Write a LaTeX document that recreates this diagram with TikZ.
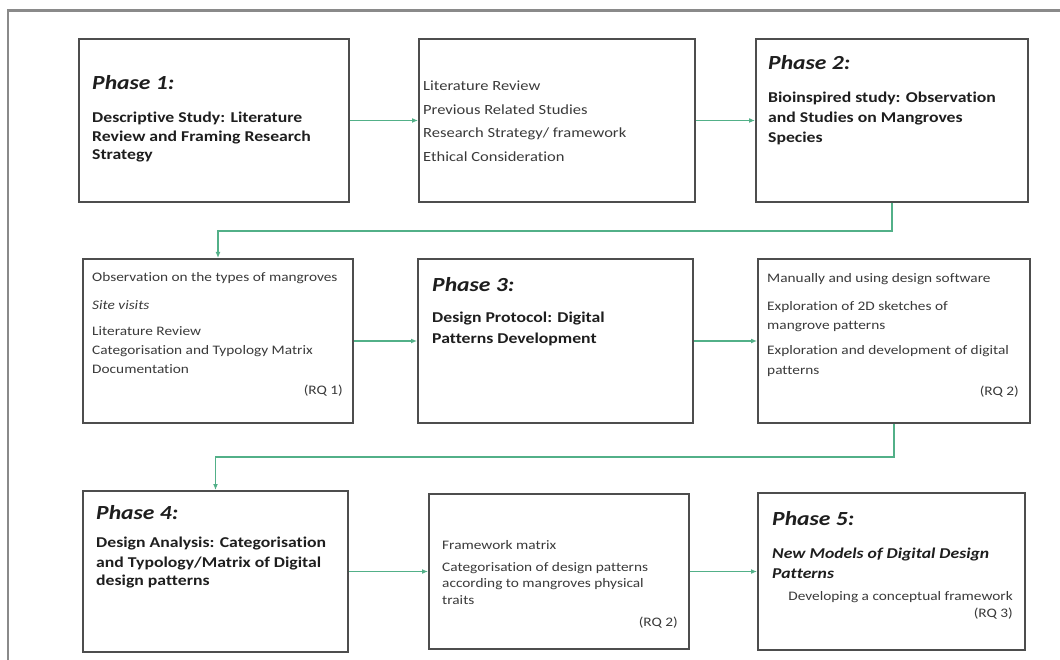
\documentclass[tikz,border=0pt]{standalone}
\usepackage{fontspec}
\setmainfont{Carlito}[FakeStretch=1.18, Ligatures=NoCommon]
\usetikzlibrary{arrows.meta}
\definecolor{boxgray}{HTML}{4D4D4D}
\definecolor{framegray}{HTML}{8A8A8A}
\definecolor{conngreen}{HTML}{52B088}
\definecolor{txtgray}{HTML}{3A3A3A}
\definecolor{txtdark}{HTML}{1E1E1E}
\begin{document}
\begin{tikzpicture}[x=1pt,y=-1pt,
  box/.style={draw=boxgray, line width=2pt, anchor=north west, inner sep=0pt, fill=white},
  st/.style={font=\fontsize{13}{15}\selectfont, text=txtgray, inner sep=0pt, anchor=base west},
  stl/.style={st, font=\fontsize{14}{17}\selectfont},
  stit/.style={st, font=\fontsize{13}{15}\selectfont\itshape},
  bd/.style={font=\fontsize{15}{18}\selectfont\bfseries, text=txtdark, inner sep=0pt, anchor=base west},
  bdit/.style={font=\fontsize{15}{18}\selectfont\bfseries\itshape, text=txtdark, inner sep=0pt, anchor=base west},
  ph/.style={font=\fontsize{20}{24}\selectfont\bfseries\itshape, text=txtdark, inner sep=0pt, anchor=base west},
  rq/.style={st, anchor=base east},
  conn/.style={draw=conngreen, line width=1.8pt, -{Latex[length=6pt,width=5pt]}}
]
\useasboundingbox (0,0) rectangle (1060,660);
\fill[white] (0,0) rectangle (1060,660);
% outer frame (top and left edges)
\draw[framegray, line width=2.5pt] (8,660) -- (8,10.5) -- (1060,10.5);

% ---------- boxes ----------
\node[box, minimum width=270pt, minimum height=163pt] (p1)  at (78,38) {};
\node[box, minimum width=276pt, minimum height=163pt] (lr)  at (418,38) {};
\node[box, minimum width=272pt, minimum height=163pt] (p2)  at (755,38) {};
\node[box, minimum width=270pt, minimum height=164pt] (obs) at (82,258) {};
\node[box, minimum width=275pt, minimum height=164pt] (p3)  at (417,258) {};
\node[box, minimum width=272pt, minimum height=164pt] (man) at (757,258) {};
\node[box, minimum width=265pt, minimum height=161pt] (p4)  at (82,490) {};
\node[box, minimum width=260pt, minimum height=155pt] (fw)  at (428,493) {};
\node[box, minimum width=267pt, minimum height=157pt] (p5)  at (757,492) {};

% ---------- texts ----------
% Phase 1
\node[ph] (p1t) at (92,90) {Phase 1:};
\node[bd] (p1a) at (92,123) {Descriptive Study: Literature};
\node[bd] (p1b) at (92,142) {Review and Framing Research};
\node[bd] (p1c) at (92,160) {Strategy};
% Literature review box
\node[stl] (lra) at (423,91) {Literature Review};
\node[stl] (lrb) at (423,115) {Previous Related Studies};
\node[stl] (lrc) at (423,138) {Research Strategy/ framework};
\node[stl] (lrd) at (423,162) {Ethical Consideration};
% Phase 2
\node[ph] (p2t) at (768,70) {Phase 2:};
\node[bd] (p2a) at (768,103) {Bioinspired study: Observation};
\node[bd] (p2b) at (768,123) {and Studies on Mangroves};
\node[bd] (p2c) at (768,143) {Species};
% Observation box
\node[st] (oba) at (92,282) {Observation on the types of mangroves};
\node[stit] (obb) at (92,309) {Site visits};
\node[st] (obc) at (92,335) {Literature Review};
\node[st] (obd) at (92,354) {Categorisation and Typology Matrix};
\node[st] (obe) at (92,373) {Documentation};
\node[rq] (obr) at (343,394) {(RQ 1)};
% Phase 3
\node[ph] (p3t) at (432,292) {Phase 3:};
\node[bd] (p3a) at (432,323) {Design Protocol: Digital};
\node[bd] (p3b) at (432,343) {Patterns Development};
% Manual box
\node[st] (maa) at (767,283) {Manually and using design software};
\node[st] (mab) at (767,310) {Exploration of 2D sketches of};
\node[st] (mac) at (767,329) {mangrove patterns};
\node[st] (mad) at (767,354) {Exploration and development of digital};
\node[st] (mae) at (767,374) {patterns};
\node[rq] (mar) at (1019,395) {(RQ 2)};
% Phase 4
\node[ph] (p4t) at (96,519) {Phase 4:};
\node[bd] (p4a) at (96,547) {Design Analysis: Categorisation};
\node[bd] (p4b) at (96,567) {and Typology/Matrix of Digital};
\node[bd] (p4c) at (96,585) {design patterns};
% Framework box
\node[st] (fwa) at (442,549) {Framework matrix};
\node[st] (fwb) at (442,571) {Categorisation of design patterns};
\node[st] (fwc) at (442,587) {according to mangroves physical};
\node[st] (fwd) at (442,604) {traits};
\node[rq] (fwr) at (678,626) {(RQ 2)};
% Phase 5
\node[ph] (p5t) at (772,525) {Phase 5:};
\node[bdit] (p5a) at (772,558) {New Models of Digital Design};
\node[bdit] (p5b) at (772,578) {Patterns};
\node[rq] (p5c) at (1013,600) {Developing a conceptual framework};
\node[rq] (p5r) at (1013,617) {(RQ 3)};

% ---------- connectors ----------
\draw[conn] (p1) -- (lr);
\draw[conn] (lr) -- (p2);
\draw[conn] (p2.south) -- ++(0,28) -| (obs.north);
\draw[conn] (obs) -- (p3);
\draw[conn] (p3) -- (man);
\draw[conn] (man.south) -- ++(0,33) -| (p4.north);
\draw[conn] (p4) -- (fw);
\draw[conn] (fw) -- (p5);
\end{tikzpicture}
\end{document}
